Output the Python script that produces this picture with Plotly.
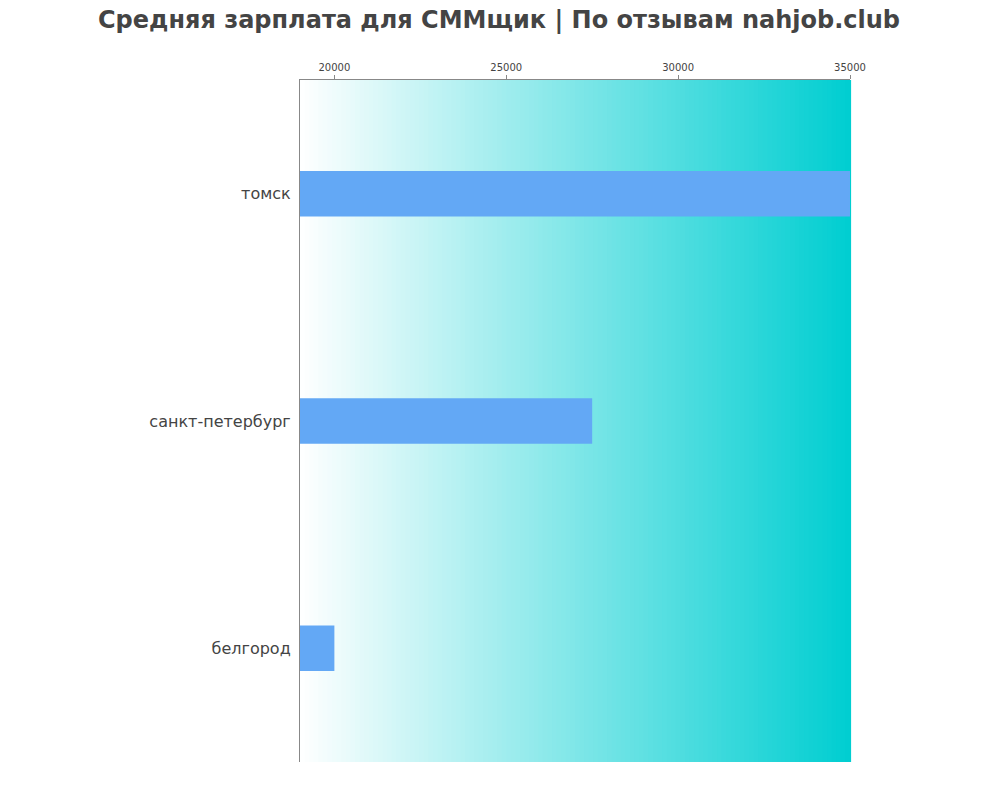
import plotly.graph_objects as go

cities = ["белгород", "санкт-петербург", "томск"]
salaries = [20000, 27500, 35000]
tick_vals = [20000, 25000, 30000, 35000]
tick_text = ["20000", "25000", "30000", "35000"]

fig = go.Figure()
fig.add_trace(go.Bar(x=salaries, y=cities, orientation="h", width=0.2,
                     marker=dict(color="#63A8F5", line=dict(width=0)), hoverinfo="x+y"))

n = 120
shapes = []
for i in range(n):
    t = (i + 0.5) / n
    r = round(255 * (1 - t) + 0 * t)
    g = round(255 * (1 - t) + 206 * t)
    b = round(255 * (1 - t) + 209 * t)
    shapes.append(dict(type="rect", xref="x domain", yref="y domain",
                       x0=i / n, x1=(i + 1) / n + 0.002, y0=0, y1=1,
                       fillcolor=f"rgb({r},{g},{b})", line=dict(width=0), layer="below"))

fig.update_layout(
    width=1000, height=800,
    margin=dict(l=292, r=158, t=72, b=46),
    paper_bgcolor="white", plot_bgcolor="white",
    shapes=shapes,
    title=dict(text="<b>Средняя зарплата для СММщик | По отзывам nahjob.club</b>",
               x=0.491, xanchor="center", y=0.986, yanchor="middle",
               font=dict(family="DejaVu Sans", size=24, color="#444")),
    xaxis=dict(side="top", range=[19000, 35000], tickvals=tick_vals, ticktext=tick_text,
               tickfont=dict(family="DejaVu Sans", size=10, color="#444"),
               showline=True, linecolor="#888", linewidth=1,
               showgrid=False, zeroline=False, ticks="outside", ticklen=4, tickcolor="#888"),
    yaxis=dict(tickfont=dict(family="DejaVu Sans", size=16, color="#444"),
               showline=True, linecolor="#888", linewidth=1, ticks="", ticksuffix=" ",
               showgrid=False),
    showlegend=False, bargap=0.8,
)
fig.write_html("out.html")
